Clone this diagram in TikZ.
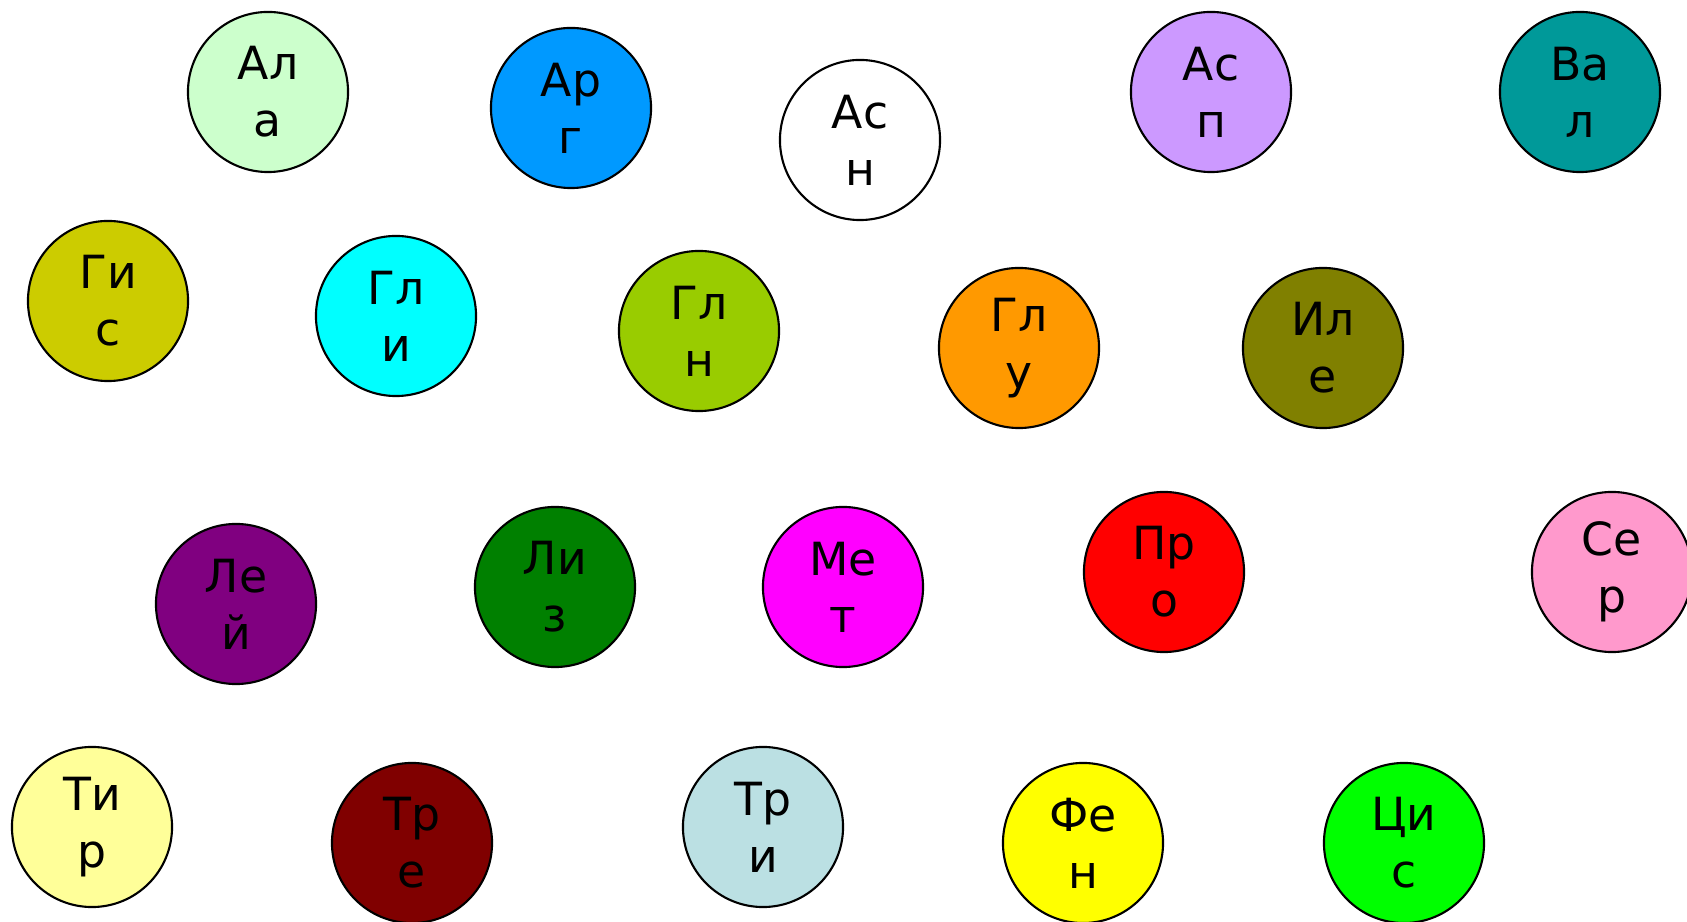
\documentclass[tikz,border=0pt]{standalone}
\usepackage{fontspec}
\setmainfont{DejaVu Sans}
\usepackage{tikz}

\definecolor{alaC}{HTML}{CCFFCC}
\definecolor{argC}{HTML}{0099FF}
\definecolor{aspC}{HTML}{CC99FF}
\definecolor{valC}{HTML}{009999}
\definecolor{gisC}{HTML}{CCCC00}
\definecolor{gliC}{HTML}{00FFFF}
\definecolor{glnC}{HTML}{99CC00}
\definecolor{gluC}{HTML}{FF9900}
\definecolor{ileC}{HTML}{808000}
\definecolor{leiC}{HTML}{800080}
\definecolor{lizC}{HTML}{008000}
\definecolor{metC}{HTML}{FF00FF}
\definecolor{proC}{HTML}{FF0000}
\definecolor{serC}{HTML}{FF99CC}
\definecolor{tirC}{HTML}{FFFF99}
\definecolor{treC}{HTML}{800000}
\definecolor{triC}{HTML}{BBE0E3}
\definecolor{fenC}{HTML}{FFFF00}
\definecolor{cisC}{HTML}{00FF00}

\tikzset{acid/.style={circle, draw=black, line width=0.6pt, minimum size=1.6cm,
    inner sep=0pt, align=center, font=\fontsize{13}{16.2}\selectfont}}

\begin{document}
\begin{tikzpicture}[x=0.01cm, y=-0.01cm]
    \clip (0,0) rectangle (1687,922);

    % first row
    \node[acid, fill=alaC] (ala) at (268,92) {Ал\\а};
    \node[acid, fill=argC] (arg) at (571,108) {Ар\\г};
    \node[acid, fill=white] (asn) at (860,140) {Ас\\н};
    \node[acid, fill=aspC] (asp) at (1211,92) {Ас\\п};
    \node[acid, fill=valC] (val) at (1580,92) {Ва\\л};

    % second row
    \node[acid, fill=gisC] (gis) at (108,301) {Ги\\с};
    \node[acid, fill=gliC] (gli) at (396,316) {Гл\\и};
    \node[acid, fill=glnC] (gln) at (699,331) {Гл\\н};
    \node[acid, fill=gluC] (glu) at (1019,348) {Гл\\у};
    \node[acid, fill=ileC] (ile) at (1323,348) {Ил\\е};

    % third row
    \node[acid, fill=leiC] (lei) at (236,604) {Ле\\й};
    \node[acid, fill=lizC] (liz) at (555,587) {Ли\\з};
    \node[acid, fill=metC] (met) at (843,587) {Ме\\т};
    \node[acid, fill=proC] (pro) at (1164,572) {Пр\\о};
    \node[acid, fill=serC] (ser) at (1612,572) {Се\\р};

    % fourth row, cut at the bottom
    \node[acid, fill=tirC] (tir) at (92,827) {Ти\\р};
    \node[acid, fill=treC] (tre) at (412,843) {Тр\\е};
    \node[acid, fill=triC] (tri) at (763,827) {Тр\\и};
    \node[acid, fill=fenC] (fen) at (1083,843) {Фе\\н};
    \node[acid, fill=cisC] (cis) at (1404,843) {Ци\\с};
\end{tikzpicture}
\end{document}
